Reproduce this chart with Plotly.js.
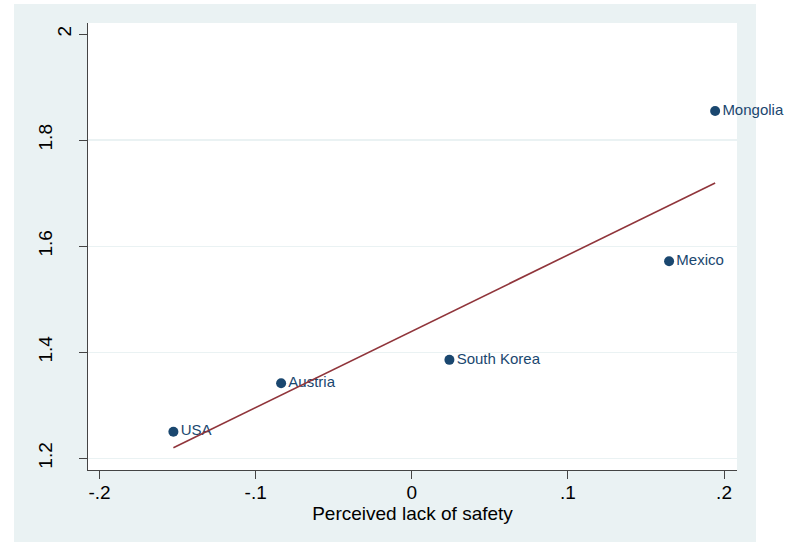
<!DOCTYPE html>
<html>
<head>
<meta charset="utf-8">
<script src="https://cdn.plot.ly/plotly-3.0.1.min.js"></script>
<style>html,body{margin:0;padding:0;background:#fff;}#chart{width:800px;height:542px;}</style>
</head>
<body>
<div id="chart"></div>
<script>
// Country data (x: perceived lack of safety, y: outcome)
var countries = ["USA", "Austria", "South Korea", "Mexico", "Mongolia"];
var safetyX = [-0.1527, -0.0837, 0.0241, 0.1648, 0.1943];
var outcomeY = [1.2501, 1.3416, 1.3856, 1.5715, 1.855];

// Fitted line endpoints
var fitX = [-0.1527, 0.1943];
var fitY = [1.2199, 1.719];

// Tick values / labels
var xTickVals = [-0.2, -0.1, 0, 0.1, 0.2];
var xTickText = ["-.2", "-.1", "0", ".1", ".2"];
var yTickVals = [1.2, 1.4, 1.6, 1.8];
var yTickText = ["1.2", "1.4", "1.6", "1.8"];
var yTopTickVals = [2];
var yTopTickText = ["2"];

var navy = "#1a476f";
var maroon = "#90353b";
var bluishGray = "#eaf2f3";
var font = "Liberation Sans, Arial, Helvetica, sans-serif";
var xRange = [-0.2074, 0.2083];
var yRange = [1.1779, 2.0208];

var traces = [
  {
    type: "scatter", mode: "markers+text",
    x: safetyX, y: outcomeY, text: countries,
    textposition: "middle right",
    textfont: {family: font, size: 15, color: navy},
    marker: {color: navy, size: 10},
    hoverinfo: "skip", showlegend: false, cliponaxis: false
  },
  {
    type: "scatter", mode: "lines",
    x: fitX, y: fitY,
    line: {color: maroon, width: 1.6},
    hoverinfo: "skip", showlegend: false
  },
  {
    type: "scatter", mode: "markers",
    x: [null], y: [null], yaxis: "y2",
    hoverinfo: "skip", showlegend: false
  }
];

var layout = {
  width: 800, height: 542,
  margin: {l: 88, r: 63, t: 23, b: 72, pad: 0},
  paper_bgcolor: "#ffffff",
  plot_bgcolor: "#ffffff",
  showlegend: false,
  font: {family: font, color: "#000000"},
  shapes: [
    {type: "rect", xref: "paper", yref: "paper", x0: -0.1140, x1: 1.0293, y0: -0.2, y1: 1.0425,
     fillcolor: bluishGray, line: {width: 0}, layer: "below"},
    {type: "rect", xref: "paper", yref: "paper", x0: 0, x1: 1, y0: 0, y1: 1,
     fillcolor: "#ffffff", line: {width: 0}, layer: "below"}
  ],
  xaxis: {
    range: xRange, tickvals: xTickVals, ticktext: xTickText,
    showgrid: false, zeroline: false,
    showline: true, linecolor: "#444444", linewidth: 1,
    ticks: "outside", ticklen: 8, tickwidth: 1, tickcolor: "#444444",
    tickfont: {family: font, size: 19, color: "#000"},
    ticklabelstandoff: -3,
    title: {text: "Perceived lack of safety", font: {family: font, size: 19, color: "#000"}, standoff: 3},
    automargin: false, fixedrange: true
  },
  yaxis: {
    range: yRange, tickvals: yTickVals, ticktext: yTickText,
    showgrid: true, gridcolor: bluishGray, gridwidth: 1.2,
    zeroline: false,
    showline: true, linecolor: "#444444", linewidth: 1,
    ticks: "outside", ticklen: 8, tickwidth: 1, tickcolor: "#444444",
    tickangle: -90,
    tickfont: {family: font, size: 19, color: "#000"},
    ticklabelstandoff: 19,
    automargin: false, fixedrange: true
  },
  yaxis2: {
    overlaying: "y", side: "left",
    range: yRange, tickvals: yTopTickVals, ticktext: yTopTickText,
    showgrid: false, zeroline: false, showline: false,
    ticks: "outside", ticklen: 8, tickwidth: 1, tickcolor: "#444444",
    tickangle: -90,
    tickfont: {family: font, size: 19, color: "#000"},
    ticklabelstandoff: 0,
    automargin: false, fixedrange: true
  }
};

Plotly.newPlot("chart", traces, layout, {displayModeBar: false, staticPlot: true});
</script>
</body>
</html>
